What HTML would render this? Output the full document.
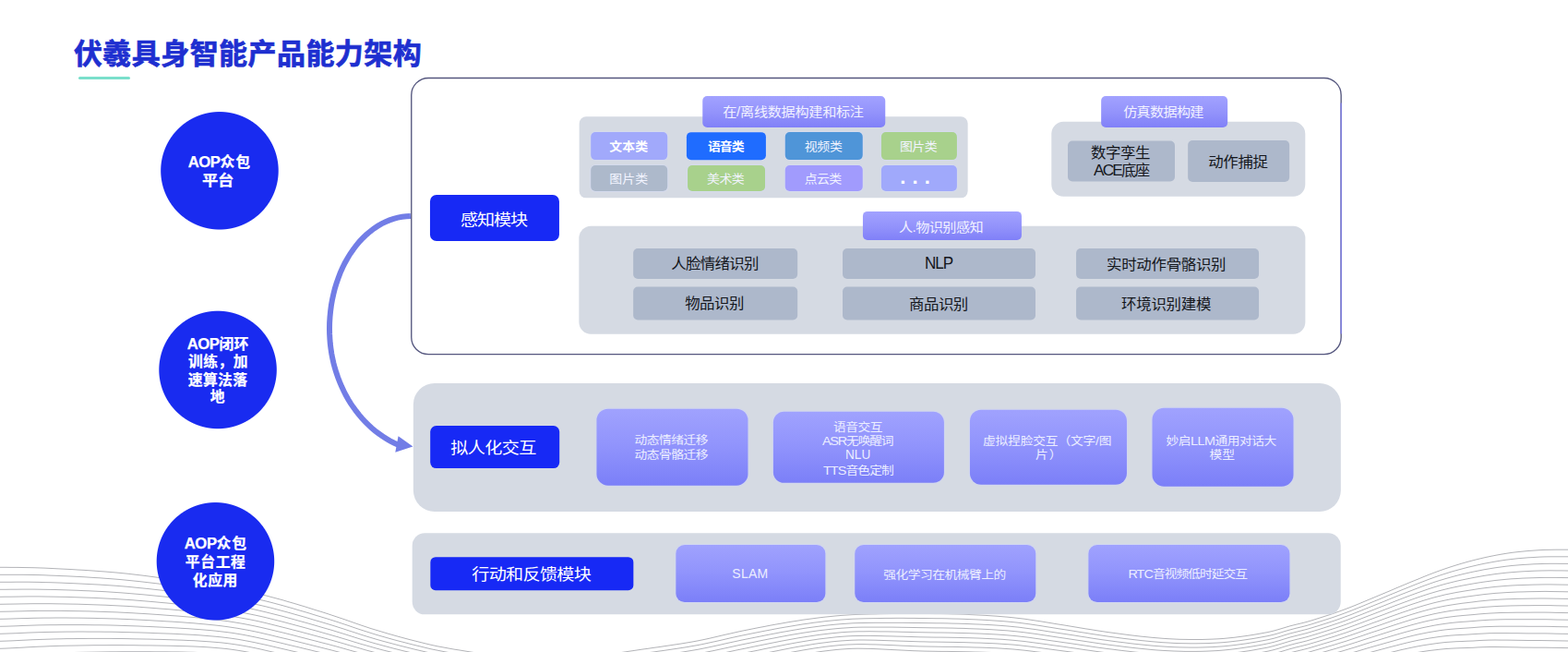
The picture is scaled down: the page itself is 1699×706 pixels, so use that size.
<!DOCTYPE html>
<html lang="zh-CN">
<head>
<meta charset="utf-8">
<title>伏羲具身智能产品能力架构</title>
<style>
*{box-sizing:border-box;margin:0;padding:0}
html,body{width:1699px;height:706px;overflow:hidden;background:#fff}
body{position:relative;font-family:"Liberation Sans","Noto Sans CJK SC",sans-serif;}
body>div,body>svg,body>h1{position:absolute}
svg{left:0;top:0}
.t{position:absolute;display:block;white-space:nowrap;line-height:1;transform-origin:0 0}
.title{left:0;top:0;width:600px;height:80px;font-size:31px;font-weight:700;color:#1e2fd0;-webkit-text-stroke:0.7px #1e2fd0}
.la{font-size:1.05em}
.lb{font-size:1.06em;letter-spacing:-0.5px}
.uline{background:#7adfcb;border-radius:2px}
.circ{color:#fff;font-weight:700;-webkit-text-stroke:0.25px #fff}
.panel{background:#d5dae3}
.btn{background:#1729f5;color:#fff}
.lab{border-radius:5px;background:linear-gradient(180deg,#a2a2ff 0%,#9292fb 55%,#8080f8 100%);color:#f1f1ff}
.chip{border-radius:5px;color:#f2f4ff;box-shadow:0 0 0 1px rgba(215,222,255,.35)}
.gb{border-radius:5px;background:#adb8cb;color:#14161b}
.pb{background:linear-gradient(180deg,#a0a2fe 0%,#9093fc 50%,#7b7ff8 100%);color:#eceeff;box-shadow:0 0 0 1px rgba(206,212,255,.5)}
.dots{position:absolute;font-weight:700;color:#fff;font-size:22px;line-height:1;white-space:nowrap;letter-spacing:0.5px;left:20.3px;top:2.2px}
</style>
</head>
<body>
<svg class="wave" width="1699" height="706" viewBox="0 0 1699 706"><g fill="none" stroke="#7d7f86" stroke-width="0.6"><polyline points="-6,614.3 0,614.3 6,614.3 12,614.4 18,614.4 24,614.5 30,614.6 36,614.7 42,614.9 48,615.1 54,615.4 60,615.7 66,616.0 72,616.3 78,616.6 84,617.0 90,617.3 96,617.7 102,618.1 108,618.6 114,619.0 120,619.5 126,620.0 132,620.6 138,621.2 144,621.9 150,622.6 156,623.3 162,624.1 168,624.9 174,625.7 180,626.5 186,627.3 192,628.1 198,629.0 204,629.8 210,630.7 216,631.6 222,632.6 228,633.5 234,634.5 240,635.5 246,636.5 252,637.6 258,638.6 264,639.8 270,640.9 276,642.2 282,643.5 288,644.9 294,646.5 300,648.1 306,649.7 312,651.5 318,653.2 324,655.0 330,656.8 336,658.7 342,660.6 348,662.4 354,664.3 360,666.3 366,668.3 372,670.3 378,672.4 384,674.5 390,676.6 396,678.6 402,680.6 408,682.4 414,684.2 420,686.0 426,687.7 432,689.4 438,691.0 444,692.6 450,694.1 456,695.6 462,697.1 468,698.5 474,699.8 480,700.9 486,702.0 492,703.1 498,704.0 504,705.0 510,706.0 516,706.9 522,707.9 528,708.8 534,709.7 540,710.5 546,711.3 552,712.1"/><polyline points="642,711.8 648,710.9 654,709.9 660,708.9 666,707.8 672,706.7 678,705.8 684,704.9 690,704.0 696,703.1 702,702.3 708,701.4 714,700.6 720,699.7 726,698.8 732,697.9 738,697.0 744,696.0 750,695.0 756,693.9 762,692.7 768,691.4 774,690.0 780,688.6 786,687.2 792,685.9 798,684.5 804,683.2 810,682.0 816,680.8 822,679.6 828,678.5 834,677.3 840,676.2 846,675.2 852,674.1 858,673.1 864,672.2 870,671.2 876,670.4 882,669.6 888,668.8 894,668.1 900,667.5 906,666.9 912,666.4 918,666.0 924,665.6 930,665.4 936,665.2 942,665.0 948,664.9 954,664.7 960,664.6 966,664.5 972,664.4 978,664.3 984,664.3 990,664.3 996,664.4 1002,664.4 1008,664.5 1014,664.6 1020,664.6 1026,664.7 1032,664.9 1038,665.0 1044,665.2 1050,665.5 1056,665.8 1062,666.1 1068,666.4 1074,666.8 1080,667.2 1086,667.7 1092,668.2 1098,668.8 1104,669.5 1110,670.2 1116,671.1 1122,672.0 1128,672.9 1134,673.9 1140,674.9 1146,675.9 1152,676.8 1158,677.8 1164,678.8 1170,679.8 1176,680.8 1182,681.7 1188,682.7 1194,683.6 1200,684.5 1206,685.3 1212,686.1 1218,686.9 1224,687.7 1230,688.4 1236,689.1 1242,689.7 1248,690.3 1254,690.8 1260,691.3 1266,691.7 1272,692.0 1278,692.3 1284,692.4 1290,692.5 1296,692.5 1302,692.5 1308,692.3 1314,692.1 1320,691.8 1326,691.4 1332,690.8 1338,690.2 1344,689.4 1350,688.6 1356,687.7 1362,686.7 1368,685.6 1374,684.5 1380,683.1 1386,681.4 1392,679.6 1398,677.8 1404,676.3 1410,674.9 1416,673.4 1422,671.6 1428,669.7 1434,667.8 1440,665.9 1446,663.9 1452,661.7 1458,659.5 1464,657.2 1470,654.8 1476,652.3 1482,649.8 1488,647.3 1494,644.8 1500,642.3 1506,639.8 1512,637.2 1518,634.7 1524,632.2 1530,629.7 1536,627.3 1542,624.8 1548,622.4 1554,620.1 1560,617.9 1566,615.8 1572,613.8 1578,611.9 1584,610.1 1590,608.4 1596,606.8 1602,605.3 1608,603.9 1614,602.6 1620,601.4 1626,600.3 1632,599.3 1638,598.4 1644,597.7 1650,597.1 1656,596.5 1662,596.1 1668,595.7 1674,595.4 1680,595.3 1686,595.2 1692,595.2 1698,595.2 1704,595.2 1710,595.2"/><polyline points="-6,622.3 0,622.3 6,622.3 12,622.3 18,622.3 24,622.3 30,622.4 36,622.5 42,622.6 48,622.8 54,623.1 60,623.3 66,623.6 72,623.8 78,624.1 84,624.4 90,624.7 96,625.1 102,625.5 108,625.8 114,626.3 120,626.7 126,627.2 132,627.7 138,628.3 144,628.9 150,629.5 156,630.2 162,630.9 168,631.6 174,632.3 180,633.1 186,633.8 192,634.6 198,635.4 204,636.2 210,637.0 216,637.9 222,638.8 228,639.7 234,640.6 240,641.5 246,642.5 252,643.6 258,644.6 264,645.7 270,646.9 276,648.1 282,649.5 288,650.9 294,652.4 300,654.0 306,655.6 312,657.3 318,659.0 324,660.8 330,662.5 336,664.3 342,666.2 348,668.0 354,669.8 360,671.7 366,673.6 372,675.6 378,677.6 384,679.7 390,681.7 396,683.6 402,685.5 408,687.4 414,689.1 420,690.8 426,692.5 432,694.1 438,695.6 444,697.2 450,698.7 456,700.1 462,701.6 468,703.0 474,704.2 480,705.4 486,706.5 492,707.5 498,708.4 504,709.4 510,710.3 516,711.3 522,712.2"/><polyline points="672,711.2 678,710.2 684,709.3 690,708.5 696,707.6 702,706.8 708,706.0 714,705.1 720,704.3 726,703.4 732,702.5 738,701.6 744,700.7 750,699.6 756,698.6 762,697.4 768,696.1 774,694.8 780,693.5 786,692.1 792,690.7 798,689.4 804,688.1 810,686.9 816,685.7 822,684.5 828,683.3 834,682.2 840,681.0 846,679.9 852,678.9 858,677.9 864,676.9 870,675.9 876,675.1 882,674.2 888,673.5 894,672.7 900,672.1 906,671.5 912,671.0 918,670.6 924,670.2 930,670.0 936,669.8 942,669.7 948,669.6 954,669.5 960,669.4 966,669.4 972,669.3 978,669.3 984,669.4 990,669.4 996,669.5 1002,669.5 1008,669.6 1014,669.7 1020,669.7 1026,669.8 1032,670.0 1038,670.1 1044,670.3 1050,670.6 1056,670.8 1062,671.1 1068,671.4 1074,671.8 1080,672.2 1086,672.6 1092,673.1 1098,673.7 1104,674.3 1110,675.1 1116,675.9 1122,676.8 1128,677.7 1134,678.7 1140,679.6 1146,680.6 1152,681.5 1158,682.4 1164,683.4 1170,684.4 1176,685.3 1182,686.3 1188,687.2 1194,688.1 1200,689.0 1206,689.8 1212,690.6 1218,691.4 1224,692.1 1230,692.8 1236,693.5 1242,694.1 1248,694.7 1254,695.2 1260,695.7 1266,696.0 1272,696.4 1278,696.6 1284,696.7 1290,696.8 1296,696.8 1302,696.7 1308,696.6 1314,696.3 1320,696.0 1326,695.6 1332,695.0 1338,694.3 1344,693.6 1350,692.7 1356,691.8 1362,690.8 1368,689.7 1374,688.6 1380,687.2 1386,685.5 1392,683.6 1398,681.9 1404,680.3 1410,678.9 1416,677.4 1422,675.6 1428,673.7 1434,671.8 1440,669.9 1446,667.9 1452,665.8 1458,663.6 1464,661.3 1470,658.9 1476,656.5 1482,654.0 1488,651.5 1494,649.1 1500,646.6 1506,644.1 1512,641.7 1518,639.2 1524,636.8 1530,634.4 1536,632.0 1542,629.7 1548,627.4 1554,625.2 1560,623.1 1566,621.2 1572,619.3 1578,617.6 1584,616.0 1590,614.4 1596,613.0 1602,611.6 1608,610.3 1614,609.2 1620,608.1 1626,607.1 1632,606.2 1638,605.5 1644,604.8 1650,604.3 1656,603.8 1662,603.5 1668,603.1 1674,602.9 1680,602.8 1686,602.8 1692,602.8 1698,602.8 1704,602.8 1710,602.8"/><polyline points="-6,630.3 0,630.3 6,630.3 12,630.3 18,630.2 24,630.2 30,630.2 36,630.3 42,630.4 48,630.6 54,630.7 60,630.9 66,631.1 72,631.4 78,631.6 84,631.9 90,632.2 96,632.5 102,632.8 108,633.1 114,633.5 120,633.9 126,634.3 132,634.8 138,635.3 144,635.9 150,636.5 156,637.1 162,637.7 168,638.4 174,639.0 180,639.7 186,640.4 192,641.1 198,641.8 204,642.6 210,643.3 216,644.1 222,644.9 228,645.8 234,646.7 240,647.6 246,648.6 252,649.5 258,650.6 264,651.7 270,652.8 276,654.1 282,655.4 288,656.8 294,658.3 300,659.9 306,661.5 312,663.1 318,664.8 324,666.5 330,668.2 336,670.0 342,671.8 348,673.5 354,675.3 360,677.1 366,679.0 372,680.9 378,682.9 384,684.8 390,686.8 396,688.7 402,690.5 408,692.3 414,694.0 420,695.6 426,697.2 432,698.8 438,700.3 444,701.8 450,703.3 456,704.7 462,706.1 468,707.4 474,708.7 480,709.8 486,710.9 492,711.9 498,712.8"/><polyline points="702,711.3 708,710.5 714,709.7 720,708.9 726,708.0 732,707.2 738,706.3 744,705.3 750,704.3 756,703.3 762,702.1 768,700.9 774,699.6 780,698.3 786,696.9 792,695.6 798,694.3 804,693.0 810,691.8 816,690.6 822,689.4 828,688.2 834,687.0 840,685.9 846,684.7 852,683.7 858,682.6 864,681.6 870,680.6 876,679.7 882,678.9 888,678.1 894,677.3 900,676.7 906,676.1 912,675.6 918,675.2 924,674.8 930,674.6 936,674.5 942,674.4 948,674.3 954,674.3 960,674.3 966,674.3 972,674.3 978,674.3 984,674.4 990,674.5 996,674.5 1002,674.6 1008,674.7 1014,674.8 1020,674.8 1026,674.9 1032,675.1 1038,675.2 1044,675.4 1050,675.6 1056,675.9 1062,676.1 1068,676.4 1074,676.7 1080,677.1 1086,677.5 1092,678.0 1098,678.6 1104,679.2 1110,680.0 1116,680.8 1122,681.6 1128,682.5 1134,683.5 1140,684.4 1146,685.3 1152,686.2 1158,687.1 1164,688.0 1170,689.0 1176,689.9 1182,690.9 1188,691.8 1194,692.7 1200,693.5 1206,694.3 1212,695.1 1218,695.8 1224,696.6 1230,697.3 1236,697.9 1242,698.5 1248,699.1 1254,699.6 1260,700.0 1266,700.4 1272,700.7 1278,700.9 1284,701.0 1290,701.1 1296,701.1 1302,701.0 1308,700.8 1314,700.6 1320,700.2 1326,699.8 1332,699.2 1338,698.5 1344,697.7 1350,696.9 1356,695.9 1362,694.9 1368,693.8 1374,692.7 1380,691.3 1386,689.6 1392,687.7 1398,685.9 1404,684.4 1410,682.9 1416,681.4 1422,679.6 1428,677.8 1434,675.9 1440,674.0 1446,672.0 1452,669.9 1458,667.7 1464,665.5 1470,663.1 1476,660.7 1482,658.3 1488,655.9 1494,653.5 1500,651.1 1506,648.6 1512,646.2 1518,643.8 1524,641.5 1530,639.2 1536,636.9 1542,634.6 1548,632.5 1554,630.4 1560,628.5 1566,626.7 1572,625.0 1578,623.4 1584,621.9 1590,620.5 1596,619.2 1602,618.0 1608,616.8 1614,615.8 1620,614.8 1626,614.0 1632,613.2 1638,612.5 1644,612.0 1650,611.5 1656,611.2 1662,610.8 1668,610.6 1674,610.4 1680,610.3 1686,610.3 1692,610.4 1698,610.4 1704,610.4 1710,610.4"/><polyline points="-6,638.3 0,638.3 6,638.3 12,638.2 18,638.2 24,638.1 30,638.1 36,638.1 42,638.2 48,638.3 54,638.4 60,638.5 66,638.7 72,638.9 78,639.1 84,639.3 90,639.6 96,639.8 102,640.1 108,640.4 114,640.7 120,641.1 126,641.5 132,641.9 138,642.4 144,642.9 150,643.4 156,643.9 162,644.5 168,645.1 174,645.7 180,646.3 186,646.9 192,647.6 198,648.2 204,648.9 210,649.6 216,650.4 222,651.1 228,651.9 234,652.8 240,653.6 246,654.6 252,655.5 258,656.6 264,657.6 270,658.8 276,660.0 282,661.4 288,662.8 294,664.3 300,665.8 306,667.3 312,669.0 318,670.6 324,672.3 330,673.9 336,675.6 342,677.3 348,679.1 354,680.8 360,682.5 366,684.4 372,686.2 378,688.1 384,690.0 390,691.9 396,693.7 402,695.5 408,697.2 414,698.8 420,700.4 426,702.0 432,703.5 438,705.0 444,706.4 450,707.8 456,709.2 462,710.6 468,711.9 474,713.2"/><polyline points="732,711.8 738,710.9 744,710.0 750,709.0 756,708.0 762,706.8 768,705.6 774,704.4 780,703.1 786,701.8 792,700.5 798,699.2 804,697.9 810,696.7 816,695.5 822,694.2 828,693.0 834,691.8 840,690.7 846,689.5 852,688.4 858,687.3 864,686.3 870,685.3 876,684.4 882,683.5 888,682.7 894,682.0 900,681.3 906,680.7 912,680.2 918,679.8 924,679.4 930,679.2 936,679.1 942,679.1 948,679.1 954,679.1 960,679.1 966,679.1 972,679.2 978,679.3 984,679.4 990,679.5 996,679.6 1002,679.7 1008,679.8 1014,679.9 1020,679.9 1026,680.0 1032,680.1 1038,680.3 1044,680.4 1050,680.7 1056,680.9 1062,681.1 1068,681.4 1074,681.7 1080,682.1 1086,682.5 1092,682.9 1098,683.5 1104,684.1 1110,684.8 1116,685.6 1122,686.4 1128,687.3 1134,688.2 1140,689.1 1146,690.0 1152,690.9 1158,691.8 1164,692.7 1170,693.6 1176,694.5 1182,695.4 1188,696.3 1194,697.2 1200,698.0 1206,698.8 1212,699.5 1218,700.3 1224,701.0 1230,701.7 1236,702.3 1242,702.9 1248,703.5 1254,704.0 1260,704.4 1266,704.7 1272,705.0 1278,705.2 1284,705.4 1290,705.4 1296,705.4 1302,705.3 1308,705.1 1314,704.8 1320,704.5 1326,704.0 1332,703.4 1338,702.7 1344,701.9 1350,701.0 1356,700.1 1362,699.1 1368,698.0 1374,696.8 1380,695.4 1386,693.7 1392,691.8 1398,690.0 1404,688.5 1410,687.0 1416,685.5 1422,683.7 1428,681.9 1434,680.0 1440,678.1 1446,676.1 1452,674.1 1458,672.0 1464,669.7 1470,667.4 1476,665.1 1482,662.7 1488,660.4 1494,658.0 1500,655.7 1506,653.3 1512,650.9 1518,648.6 1524,646.3 1530,644.1 1536,641.9 1542,639.8 1548,637.7 1554,635.8 1560,634.0 1566,632.3 1572,630.8 1578,629.3 1584,628.0 1590,626.8 1596,625.6 1602,624.5 1608,623.4 1614,622.5 1620,621.6 1626,620.9 1632,620.2 1638,619.7 1644,619.2 1650,618.8 1656,618.5 1662,618.2 1668,618.0 1674,617.9 1680,617.8 1686,617.9 1692,617.9 1698,618.0 1704,618.0 1710,618.0"/><polyline points="-6,646.3 0,646.3 6,646.2 12,646.2 18,646.1 24,646.0 30,645.9 36,645.9 42,645.9 48,646.0 54,646.1 60,646.2 66,646.3 72,646.4 78,646.6 84,646.8 90,647.0 96,647.2 102,647.4 108,647.7 114,648.0 120,648.3 126,648.6 132,649.0 138,649.4 144,649.8 150,650.3 156,650.8 162,651.3 168,651.8 174,652.4 180,652.9 186,653.5 192,654.1 198,654.7 204,655.3 210,655.9 216,656.6 222,657.3 228,658.1 234,658.9 240,659.7 246,660.6 252,661.5 258,662.5 264,663.6 270,664.8 276,666.0 282,667.3 288,668.7 294,670.2 300,671.7 306,673.2 312,674.8 318,676.4 324,678.0 330,679.6 336,681.3 342,682.9 348,684.6 354,686.3 360,688.0 366,689.7 372,691.5 378,693.3 384,695.2 390,697.0 396,698.7 402,700.4 408,702.1 414,703.7 420,705.2 426,706.7 432,708.2 438,709.6 444,711.0 450,712.4"/><polyline points="762,711.6 768,710.4 774,709.2 780,707.9 786,706.6 792,705.3 798,704.0 804,702.8 810,701.6 816,700.3 822,699.1 828,697.9 834,696.7 840,695.5 846,694.3 852,693.2 858,692.1 864,691.0 870,690.0 876,689.1 882,688.2 888,687.3 894,686.6 900,685.9 906,685.3 912,684.7 918,684.3 924,684.0 930,683.8 936,683.8 942,683.7 948,683.8 954,683.9 960,683.9 966,684.0 972,684.1 978,684.3 984,684.4 990,684.6 996,684.7 1002,684.8 1008,684.9 1014,685.0 1020,685.0 1026,685.1 1032,685.2 1038,685.4 1044,685.5 1050,685.7 1056,685.9 1062,686.1 1068,686.4 1074,686.7 1080,687.0 1086,687.4 1092,687.9 1098,688.4 1104,689.0 1110,689.7 1116,690.4 1122,691.3 1128,692.1 1134,693.0 1140,693.9 1146,694.7 1152,695.6 1158,696.4 1164,697.3 1170,698.2 1176,699.1 1182,700.0 1188,700.9 1194,701.7 1200,702.5 1206,703.2 1212,704.0 1218,704.7 1224,705.4 1230,706.1 1236,706.7 1242,707.3 1248,707.9 1254,708.3 1260,708.8 1266,709.1 1272,709.4 1278,709.6 1284,709.7 1290,709.7 1296,709.6 1302,709.5 1308,709.3 1314,709.1 1320,708.7 1326,708.2 1332,707.6 1338,706.9 1344,706.1 1350,705.2 1356,704.3 1362,703.2 1368,702.1 1374,701.0 1380,699.5 1386,697.8 1392,696.0 1398,694.2 1404,692.6 1410,691.2 1416,689.7 1422,687.9 1428,686.1 1434,684.2 1440,682.3 1446,680.4 1452,678.4 1458,676.3 1464,674.1 1470,671.8 1476,669.5 1482,667.2 1488,664.9 1494,662.6 1500,660.3 1506,658.0 1512,655.7 1518,653.5 1524,651.3 1530,649.1 1536,647.0 1542,645.0 1548,643.1 1554,641.3 1560,639.6 1566,638.1 1572,636.7 1578,635.4 1584,634.2 1590,633.1 1596,632.0 1602,631.0 1608,630.1 1614,629.3 1620,628.5 1626,627.9 1632,627.3 1638,626.8 1644,626.5 1650,626.1 1656,625.9 1662,625.7 1668,625.5 1674,625.4 1680,625.4 1686,625.4 1692,625.5 1698,625.6 1704,625.6 1710,625.6"/><polyline points="-6,654.3 0,654.3 6,654.2 12,654.1 18,654.0 24,653.9 30,653.8 36,653.7 42,653.7 48,653.7 54,653.7 60,653.8 66,653.9 72,654.0 78,654.1 84,654.2 90,654.4 96,654.6 102,654.8 108,655.0 114,655.2 120,655.5 126,655.8 132,656.1 138,656.4 144,656.8 150,657.2 156,657.7 162,658.1 168,658.6 174,659.1 180,659.5 186,660.0 192,660.6 198,661.1 204,661.7 210,662.2 216,662.9 222,663.5 228,664.2 234,665.0 240,665.7 246,666.6 252,667.5 258,668.5 264,669.6 270,670.7 276,671.9 282,673.2 288,674.6 294,676.1 300,677.6 306,679.1 312,680.6 318,682.2 324,683.7 330,685.3 336,686.9 342,688.5 348,690.1 354,691.7 360,693.4 366,695.1 372,696.8 378,698.6 384,700.3 390,702.0 396,703.8 402,705.4 408,707.0 414,708.5 420,710.0 426,711.5 432,712.9"/><polyline points="786,711.4 792,710.2 798,708.9 804,707.7 810,706.4 816,705.2 822,704.0 828,702.7 834,701.5 840,700.3 846,699.1 852,697.9 858,696.8 864,695.7 870,694.7 876,693.7 882,692.8 888,691.9 894,691.2 900,690.5 906,689.8 912,689.3 918,688.9 924,688.6 930,688.5 936,688.4 942,688.4 948,688.5 954,688.6 960,688.8 966,688.9 972,689.1 978,689.2 984,689.4 990,689.6 996,689.8 1002,689.9 1008,690.0 1014,690.1 1020,690.1 1026,690.2 1032,690.3 1038,690.4 1044,690.6 1050,690.7 1056,690.9 1062,691.1 1068,691.4 1074,691.7 1080,692.0 1086,692.3 1092,692.8 1098,693.3 1104,693.9 1110,694.5 1116,695.3 1122,696.1 1128,696.9 1134,697.7 1140,698.6 1146,699.4 1152,700.2 1158,701.1 1164,701.9 1170,702.8 1176,703.7 1182,704.5 1188,705.4 1194,706.2 1200,707.0 1206,707.7 1212,708.4 1218,709.2 1224,709.9 1230,710.5 1236,711.1 1242,711.7 1248,712.2"/><polyline points="1332,711.8 1338,711.1 1344,710.3 1350,709.4 1356,708.5 1362,707.4 1368,706.3 1374,705.1 1380,703.7 1386,702.0 1392,700.1 1398,698.4 1404,696.8 1410,695.4 1416,693.9 1422,692.1 1428,690.3 1434,688.5 1440,686.6 1446,684.7 1452,682.7 1458,680.7 1464,678.5 1470,676.3 1476,674.1 1482,671.8 1488,669.6 1494,667.4 1500,665.2 1506,662.9 1512,660.7 1518,658.5 1524,656.4 1530,654.3 1536,652.4 1542,650.4 1548,648.6 1554,646.9 1560,645.4 1566,643.9 1572,642.7 1578,641.5 1584,640.5 1590,639.5 1596,638.6 1602,637.6 1608,636.8 1614,636.1 1620,635.4 1626,634.9 1632,634.4 1638,634.0 1644,633.7 1650,633.5 1656,633.3 1662,633.1 1668,633.0 1674,632.9 1680,632.9 1686,633.0 1692,633.1 1698,633.2 1704,633.2 1710,633.3"/><polyline points="-6,662.4 0,662.3 6,662.2 12,662.1 18,661.9 24,661.8 30,661.6 36,661.5 42,661.4 48,661.4 54,661.4 60,661.4 66,661.4 72,661.5 78,661.6 84,661.7 90,661.8 96,661.9 102,662.1 108,662.3 114,662.5 120,662.7 126,662.9 132,663.2 138,663.5 144,663.8 150,664.2 156,664.5 162,664.9 168,665.3 174,665.7 180,666.2 186,666.6 192,667.0 198,667.5 204,668.0 210,668.5 216,669.1 222,669.7 228,670.4 234,671.0 240,671.8 246,672.6 252,673.5 258,674.5 264,675.5 270,676.7 276,677.9 282,679.2 288,680.6 294,682.0 300,683.5 306,684.9 312,686.4 318,687.9 324,689.5 330,691.0 336,692.6 342,694.1 348,695.7 354,697.2 360,698.8 366,700.4 372,702.1 378,703.8 384,705.5 390,707.1 396,708.8 402,710.4 408,711.9 414,713.4"/><polyline points="810,711.3 816,710.1 822,708.8 828,707.6 834,706.3 840,705.1 846,703.9 852,702.7 858,701.5 864,700.4 870,699.4 876,698.4 882,697.4 888,696.5 894,695.8 900,695.0 906,694.4 912,693.9 918,693.5 924,693.2 930,693.0 936,693.0 942,693.1 948,693.2 954,693.4 960,693.6 966,693.8 972,694.0 978,694.2 984,694.4 990,694.6 996,694.8 1002,694.9 1008,695.1 1014,695.1 1020,695.2 1026,695.3 1032,695.4 1038,695.5 1044,695.6 1050,695.8 1056,696.0 1062,696.1 1068,696.4 1074,696.6 1080,696.9 1086,697.3 1092,697.7 1098,698.1 1104,698.7 1110,699.4 1116,700.1 1122,700.9 1128,701.7 1134,702.5 1140,703.3 1146,704.1 1152,704.9 1158,705.7 1164,706.5 1170,707.4 1176,708.2 1182,709.1 1188,709.9 1194,710.7 1200,711.5 1206,712.2"/><polyline points="1362,711.6 1368,710.5 1374,709.3 1380,707.9 1386,706.2 1392,704.4 1398,702.6 1404,701.0 1410,699.6 1416,698.1 1422,696.4 1428,694.6 1434,692.8 1440,690.9 1446,689.1 1452,687.1 1458,685.2 1464,683.1 1470,680.9 1476,678.8 1482,676.6 1488,674.4 1494,672.3 1500,670.1 1506,667.9 1512,665.8 1518,663.7 1524,661.7 1530,659.7 1536,657.8 1542,656.0 1548,654.3 1554,652.7 1560,651.3 1566,650.0 1572,648.8 1578,647.8 1584,646.9 1590,646.0 1596,645.2 1602,644.4 1608,643.6 1614,643.0 1620,642.4 1626,642.0 1632,641.6 1638,641.3 1644,641.0 1650,640.9 1656,640.7 1662,640.6 1668,640.5 1674,640.4 1680,640.5 1686,640.6 1692,640.7 1698,640.8 1704,640.8 1710,640.9"/><polyline points="-6,670.4 0,670.3 6,670.2 12,670.0 18,669.8 24,669.6 30,669.5 36,669.3 42,669.2 48,669.1 54,669.1 60,669.0 66,669.0 72,669.0 78,669.1 84,669.1 90,669.2 96,669.3 102,669.4 108,669.6 114,669.7 120,669.9 126,670.0 132,670.3 138,670.5 144,670.8 150,671.1 156,671.4 162,671.7 168,672.1 174,672.4 180,672.8 186,673.1 192,673.5 198,673.9 204,674.4 210,674.8 216,675.4 222,675.9 228,676.5 234,677.1 240,677.8 246,678.6 252,679.5 258,680.4 264,681.5 270,682.6 276,683.8 282,685.1 288,686.5 294,687.9 300,689.4 306,690.8 312,692.2 318,693.7 324,695.2 330,696.7 336,698.2 342,699.7 348,701.2 354,702.7 360,704.2 366,705.8 372,707.4 378,709.0 384,710.6 390,712.2"/><polyline points="834,711.1 840,709.9 846,708.6 852,707.4 858,706.2 864,705.1 870,704.0 876,703.0 882,702.0 888,701.2 894,700.3 900,699.6 906,699.0 912,698.4 918,698.0 924,697.8 930,697.6 936,697.6 942,697.8 948,697.9 954,698.1 960,698.4 966,698.6 972,698.9 978,699.2 984,699.4 990,699.7 996,699.9 1002,700.0 1008,700.1 1014,700.2 1020,700.3 1026,700.4 1032,700.4 1038,700.5 1044,700.7 1050,700.8 1056,701.0 1062,701.1 1068,701.3 1074,701.6 1080,701.8 1086,702.2 1092,702.6 1098,703.0 1104,703.6 1110,704.2 1116,704.9 1122,705.7 1128,706.4 1134,707.2 1140,708.0 1146,708.8 1152,709.6 1158,710.4 1164,711.2 1170,712.0 1176,712.8"/><polyline points="1386,710.4 1392,708.6 1398,706.8 1404,705.3 1410,703.9 1416,702.4 1422,700.7 1428,698.9 1434,697.1 1440,695.3 1446,693.5 1452,691.7 1458,689.7 1464,687.7 1470,685.6 1476,683.5 1482,681.4 1488,679.3 1494,677.3 1500,675.2 1506,673.1 1512,671.0 1518,669.0 1524,667.1 1530,665.2 1536,663.4 1542,661.7 1548,660.1 1554,658.6 1560,657.3 1566,656.1 1572,655.1 1578,654.2 1584,653.3 1590,652.6 1596,651.9 1602,651.1 1608,650.5 1614,649.9 1620,649.5 1626,649.1 1632,648.8 1638,648.6 1644,648.4 1650,648.3 1656,648.2 1662,648.1 1668,648.0 1674,648.0 1680,648.1 1686,648.2 1692,648.3 1698,648.4 1704,648.4 1710,648.5"/><polyline points="-6,678.4 0,678.3 6,678.2 12,678.0 18,677.8 24,677.5 30,677.3 36,677.1 42,676.9 48,676.8 54,676.7 60,676.7 66,676.6 72,676.6 78,676.6 84,676.6 90,676.6 96,676.7 102,676.8 108,676.8 114,676.9 120,677.0 126,677.2 132,677.4 138,677.6 144,677.8 150,678.0 156,678.3 162,678.5 168,678.8 174,679.1 180,679.4 186,679.7 192,680.0 198,680.4 204,680.7 210,681.2 216,681.6 222,682.1 228,682.6 234,683.2 240,683.9 246,684.6 252,685.4 258,686.4 264,687.4 270,688.6 276,689.8 282,691.1 288,692.4 294,693.8 300,695.2 306,696.6 312,698.1 318,699.5 324,700.9 330,702.4 336,703.8 342,705.3 348,706.7 354,708.2 360,709.6 366,711.2 372,712.7"/><polyline points="858,711.0 864,709.8 870,708.7 876,707.6 882,706.7 888,705.7 894,704.9 900,704.2 906,703.5 912,703.0 918,702.6 924,702.3 930,702.2 936,702.3 942,702.4 948,702.6 954,702.9 960,703.2 966,703.5 972,703.8 978,704.1 984,704.4 990,704.7 996,704.9 1002,705.1 1008,705.2 1014,705.3 1020,705.4 1026,705.4 1032,705.5 1038,705.6 1044,705.7 1050,705.8 1056,706.0 1062,706.1 1068,706.3 1074,706.5 1080,706.8 1086,707.1 1092,707.5 1098,707.9 1104,708.4 1110,709.1 1116,709.7 1122,710.5 1128,711.2 1134,712.0 1140,712.8"/><polyline points="1398,711.1 1404,709.6 1410,708.2 1416,706.8 1422,705.0 1428,703.3 1434,701.6 1440,699.8 1446,698.1 1452,696.2 1458,694.4 1464,692.4 1470,690.4 1476,688.4 1482,686.3 1488,684.3 1494,682.4 1500,680.4 1506,678.4 1512,676.4 1518,674.5 1524,672.6 1530,670.8 1536,669.1 1542,667.5 1548,666.1 1554,664.7 1560,663.5 1566,662.4 1572,661.4 1578,660.6 1584,659.9 1590,659.3 1596,658.7 1602,658.0 1608,657.4 1614,657.0 1620,656.6 1626,656.3 1632,656.1 1638,655.9 1644,655.8 1650,655.7 1656,655.7 1662,655.6 1668,655.6 1674,655.6 1680,655.6 1686,655.8 1692,655.9 1698,656.0 1704,656.0 1710,656.1"/><polyline points="-6,686.4 0,686.3 6,686.1 12,685.9 18,685.7 24,685.4 30,685.1 36,684.9 42,684.7 48,684.5 54,684.4 60,684.3 66,684.2 72,684.1 78,684.1 84,684.0 90,684.0 96,684.1 102,684.1 108,684.1 114,684.2 120,684.2 126,684.3 132,684.5 138,684.6 144,684.8 150,684.9 156,685.1 162,685.3 168,685.6 174,685.8 180,686.0 186,686.2 192,686.5 198,686.8 204,687.1 210,687.4 216,687.8 222,688.3 228,688.8 234,689.3 240,689.9 246,690.6 252,691.4 258,692.3 264,693.4 270,694.5 276,695.7 282,697.0 288,698.3 294,699.7 300,701.1 306,702.5 312,703.9 318,705.3 324,706.7 330,708.1 336,709.5 342,710.9 348,712.3"/><polyline points="882,711.3 888,710.3 894,709.5 900,708.7 906,708.1 912,707.6 918,707.1 924,706.9 930,706.8 936,706.9 942,707.1 948,707.3 954,707.6 960,708.0 966,708.3 972,708.7 978,709.1 984,709.4 990,709.7 996,710.0 1002,710.1 1008,710.3 1014,710.4 1020,710.4 1026,710.5 1032,710.6 1038,710.6 1044,710.7 1050,710.8 1056,711.0 1062,711.1 1068,711.3 1074,711.5 1080,711.7 1086,712.0 1092,712.3"/><polyline points="1416,711.1 1422,709.5 1428,707.8 1434,706.1 1440,704.4 1446,702.7 1452,700.9 1458,699.1 1464,697.2 1470,695.3 1476,693.3 1482,691.4 1488,689.5 1494,687.6 1500,685.7 1506,683.8 1512,681.9 1518,680.0 1524,678.3 1530,676.6 1536,675.0 1542,673.5 1548,672.1 1554,670.9 1560,669.7 1566,668.7 1572,667.9 1578,667.2 1584,666.6 1590,666.1 1596,665.6 1602,665.0 1608,664.5 1614,664.1 1620,663.8 1626,663.5 1632,663.4 1638,663.3 1644,663.2 1650,663.2 1656,663.2 1662,663.1 1668,663.1 1674,663.1 1680,663.2 1686,663.4 1692,663.5 1698,663.6 1704,663.6 1710,663.7"/><polyline points="-6,694.4 0,694.3 6,694.1 12,693.9 18,693.6 24,693.3 30,693.0 36,692.7 42,692.5 48,692.3 54,692.1 60,691.9 66,691.8 72,691.6 78,691.6 84,691.5 90,691.5 96,691.4 102,691.4 108,691.4 114,691.4 120,691.4 126,691.5 132,691.5 138,691.6 144,691.8 150,691.9 156,692.0 162,692.1 168,692.3 174,692.4 180,692.6 186,692.8 192,693.0 198,693.2 204,693.5 210,693.7 216,694.1 222,694.5 228,694.9 234,695.4 240,695.9 246,696.6 252,697.4 258,698.3 264,699.3 270,700.4 276,701.6 282,702.9 288,704.3 294,705.7 300,707.0 306,708.4 312,709.7 318,711.1 324,712.4"/><polyline points="918,711.7 924,711.4 930,711.4 936,711.5 942,711.7 948,712.0"/><polyline points="1434,710.7 1440,709.0 1446,707.3 1452,705.7 1458,703.9 1464,702.1 1470,700.3 1476,698.4 1482,696.5 1488,694.7 1494,692.9 1500,691.1 1506,689.3 1512,687.5 1518,685.8 1524,684.1 1530,682.5 1536,681.0 1542,679.6 1548,678.4 1554,677.2 1560,676.2 1566,675.3 1572,674.5 1578,673.9 1584,673.4 1590,673.0 1596,672.5 1602,672.0 1608,671.6 1614,671.2 1620,671.0 1626,670.8 1632,670.7 1638,670.7 1644,670.7 1650,670.7 1656,670.7 1662,670.7 1668,670.7 1674,670.7 1680,670.8 1686,671.0 1692,671.1 1698,671.2 1704,671.2 1710,671.3"/><polyline points="-6,702.4 0,702.3 6,702.1 12,701.8 18,701.5 24,701.2 30,700.8 36,700.5 42,700.2 48,700.0 54,699.7 60,699.5 66,699.3 72,699.2 78,699.1 84,699.0 90,698.9 96,698.8 102,698.7 108,698.7 114,698.7 120,698.6 126,698.6 132,698.6 138,698.7 144,698.7 150,698.8 156,698.9 162,698.9 168,699.0 174,699.1 180,699.2 186,699.3 192,699.5 198,699.6 204,699.8 210,700.0 216,700.3 222,700.6 228,701.0 234,701.5 240,702.0 246,702.6 252,703.4 258,704.3 264,705.3 270,706.4 276,707.6 282,708.9 288,710.2 294,711.6 300,712.9"/><polyline points="1452,710.5 1458,708.8 1464,707.1 1470,705.4 1476,703.6 1482,701.8 1488,700.1 1494,698.4 1500,696.7 1506,695.0 1512,693.3 1518,691.6 1524,690.0 1530,688.5 1536,687.1 1542,685.9 1548,684.7 1554,683.7 1560,682.7 1566,681.9 1572,681.3 1578,680.8 1584,680.4 1590,680.0 1596,679.6 1602,679.1 1608,678.7 1614,678.5 1620,678.3 1626,678.2 1632,678.2 1638,678.2 1644,678.2 1650,678.2 1656,678.3 1662,678.3 1668,678.3 1674,678.3 1680,678.4 1686,678.6 1692,678.7 1698,678.8 1704,678.8 1710,678.9"/><polyline points="-6,710.5 0,710.3 6,710.1 12,709.8 18,709.4 24,709.1 30,708.7 36,708.3 42,708.0 48,707.7 54,707.4 60,707.1 66,706.9 72,706.7 78,706.6 84,706.4 90,706.3 96,706.2 102,706.1 108,706.0 114,705.9 120,705.8 126,705.8 132,705.7 138,705.7 144,705.7 150,705.7 156,705.7 162,705.7 168,705.8 174,705.8 180,705.8 186,705.9 192,705.9 198,706.0 204,706.2 210,706.3 216,706.6 222,706.8 228,707.2 234,707.6 240,708.0 246,708.6 252,709.4 258,710.2 264,711.2 270,712.3"/><polyline points="1470,710.5 1476,708.8 1482,707.2 1488,705.5 1494,703.9 1500,702.3 1506,700.7 1512,699.2 1518,697.6 1524,696.1 1530,694.7 1536,693.4 1542,692.3 1548,691.2 1554,690.3 1560,689.4 1566,688.7 1572,688.1 1578,687.7 1584,687.4 1590,687.1 1596,686.7 1602,686.3 1608,686.0 1614,685.7 1620,685.6 1626,685.6 1632,685.6 1638,685.7 1644,685.7 1650,685.8 1656,685.9 1662,685.9 1668,685.9 1674,685.9 1680,686.0 1686,686.2 1692,686.3 1698,686.4 1704,686.4 1710,686.4"/><polyline points="1488,711.1 1494,709.6 1500,708.1 1506,706.7 1512,705.2 1518,703.7 1524,702.4 1530,701.1 1536,699.9 1542,698.8 1548,697.9 1554,697.0 1560,696.2 1566,695.5 1572,695.1 1578,694.7 1584,694.5 1590,694.2 1596,694.0 1602,693.6 1608,693.3 1614,693.1 1620,693.0 1626,693.1 1632,693.1 1638,693.2 1644,693.3 1650,693.4 1656,693.5 1662,693.5 1668,693.5 1674,693.6 1680,693.7 1686,693.8 1692,693.9 1698,694.0 1704,694.0 1710,694.0"/><polyline points="1512,711.3 1518,710.0 1524,708.7 1530,707.5 1536,706.5 1542,705.5 1548,704.6 1554,703.9 1560,703.2 1566,702.6 1572,702.2 1578,701.9 1584,701.7 1590,701.5 1596,701.3 1602,700.9 1608,700.7 1614,700.5 1620,700.5 1626,700.6 1632,700.7 1638,700.8 1644,700.9 1650,701.1 1656,701.1 1662,701.2 1668,701.2 1674,701.2 1680,701.3 1686,701.4 1692,701.5 1698,701.6 1704,701.6 1710,701.6"/><polyline points="1548,711.6 1554,710.9 1560,710.2 1566,709.7 1572,709.4 1578,709.2 1584,709.0 1590,708.9 1596,708.7 1602,708.4 1608,708.1 1614,708.0 1620,708.0 1626,708.2 1632,708.3 1638,708.5 1644,708.6 1650,708.7 1656,708.8 1662,708.9 1668,708.9 1674,708.9 1680,709.0 1686,709.1 1692,709.2 1698,709.2 1704,709.2 1710,709.2"/></g></svg>
<h1 class="title"><span class="t" style="left:79.89px;top:42.98px;font-size:31.0px;letter-spacing:0.44px;transform:scaleX(1.0)">伏羲具身智能产品能力架构</span></h1>
<div class="uline" style="left:84.7px;top:83.4px;width:56.3px;height:2.4px;"></div>
<div class="circ" style="left:172px;top:119px;width:133px;height:133px;background:radial-gradient(circle at 65.95px 65.80px,#192bf0 63.25px,rgba(25,43,240,0) 64.25px);"><span class="t" style="left:31.73px;top:49.07px;font-size:15.8px;letter-spacing:0.86px;transform:scaleX(1.0)"><span class="lb">AOP</span>众包</span><span class="t" style="left:47.26px;top:69.39px;font-size:15.8px;letter-spacing:-0.25px;transform:scaleX(1.1)">平台</span></div>
<div class="circ" style="left:170px;top:334px;width:133px;height:133px;background:radial-gradient(circle at 66.05px 66.45px,#192bf0 63.25px,rgba(25,43,240,0) 64.25px);"><span class="t" style="left:32.73px;top:30.71px;font-size:15.8px;letter-spacing:0.25px;transform:scaleX(1.0)"><span class="lb">AOP</span>闭环</span><span class="t" style="left:33.91px;top:50.25px;font-size:15.8px;letter-spacing:0.51px;transform:scaleX(1.0)">训练，加</span><span class="t" style="left:33.79px;top:69.92px;font-size:15.8px;letter-spacing:0.36px;transform:scaleX(1.0)">速算法落</span><span class="t" style="left:57.81px;top:87.94px;font-size:15.8px;transform:scaleX(1.0)">地</span></div>
<div class="circ" style="left:167px;top:542px;width:133px;height:133px;background:radial-gradient(circle at 66.45px 65.80px,#192bf0 63.25px,rgba(25,43,240,0) 64.25px);"><span class="t" style="left:32.79px;top:39.21px;font-size:15.8px;letter-spacing:0.90px;transform:scaleX(1.0)"><span class="lb">AOP</span>众包</span><span class="t" style="left:33.75px;top:59.28px;font-size:15.8px;letter-spacing:0.66px;transform:scaleX(1.0)">平台工程</span><span class="t" style="left:41.78px;top:78.61px;font-size:15.8px;letter-spacing:0.63px;transform:scaleX(1.0)">化应用</span></div>
<svg class="arrow" width="1699" height="706" viewBox="0 0 1699 706">
<polyline points="444.9,233.9 440.3,234.2 435.7,234.7 431.1,235.6 426.6,236.8 422.1,238.4 417.7,240.3 413.3,242.4 409.1,244.9 404.9,247.7 400.9,250.8 397.0,254.1 393.2,257.7 389.5,261.6 386.0,265.8 382.7,270.2 379.5,274.8 376.5,279.7 373.7,284.7 371.1,290.0 368.7,295.4 366.6,301.0 364.6,306.7 362.8,312.6 361.3,318.6 360.0,324.6 358.9,330.8 358.1,337.0 357.5,343.3 357.1,349.7 357.0,356.0 357.1,361.4 357.4,366.8 357.8,372.2 358.5,377.6 359.3,383.0 360.3,388.2 361.5,393.5 362.9,398.7 364.5,403.8 366.2,408.8 368.1,413.7 370.2,418.6 372.4,423.3 374.8,428.0 377.3,432.5 380.0,436.9 382.9,441.1 385.9,445.2 389.0,449.2 392.3,453.0 395.7,456.7 399.2,460.1 402.8,463.5 406.5,466.6 410.4,469.5 414.3,472.3 418.4,474.9 422.5,477.3 426.7,479.5 431.0,481.4" fill="none" stroke="#727de6" stroke-width="6"/>
<polygon points="447.4,483.6 431.6,472.2 428.3,489.8" fill="#727de6"/>
</svg>
<svg class="frame" width="1699" height="706" viewBox="0 0 1699 706">
<rect x="445.75" y="84.5" width="1007.4" height="299.1" rx="18.4" ry="18.4" fill="none" stroke="#54567e" stroke-width="1.35"/>
<line x1="1453.15" y1="111.5" x2="1453.15" y2="361.5" stroke="#8383dc" stroke-width="1.7"/>
</svg>
<div class="panel" style="left:627px;top:126px;width:421px;height:88px;transform:translate(0.65px,0.35px);border-radius:7.5px;"></div>
<div class="panel" style="left:1139px;top:131px;width:275px;height:81px;transform:translate(0.30px,0.85px);border-radius:13px;"></div>
<div class="panel" style="left:627px;top:244px;width:787px;height:117px;transform:translate(0.35px,0.80px);border-radius:13px;"></div>
<div class="panel" style="left:447px;top:414px;width:1005px;height:139px;transform:translate(0.85px,0.90px);border-radius:23px;"></div>
<div class="panel" style="left:446px;top:577px;width:1006px;height:88px;transform:translate(0.70px,0.35px);border-radius:13.5px;"></div>
<div class="btn" style="left:465px;top:211px;width:140px;height:50px;transform:translate(0.95px,0.00px);border-radius:7px;"><span class="t" style="left:33.03px;top:19.04px;font-size:17.4px;letter-spacing:-1.04px;transform:scaleX(1.1)">感知模块</span></div>
<div class="btn" style="left:466px;top:461px;width:140px;height:46px;transform:translate(0.20px,0.10px);border-radius:6.5px;"><span class="t" style="left:22.32px;top:15.88px;font-size:17.4px;letter-spacing:-0.57px;transform:scaleX(1.1)">拟人化交互</span></div>
<div class="btn" style="left:466px;top:603px;width:220px;height:36px;transform:translate(0.35px,0.15px);border-radius:5.5px;"><span class="t" style="left:44.81px;top:10.76px;font-size:17.4px;letter-spacing:-0.68px;transform:scaleX(1.1)">行动和反馈模块</span></div>
<div class="lab" style="left:761px;top:104px;width:198px;height:34px;transform:translate(0.25px,0.00px);"><span class="t" style="left:22.24px;top:10.06px;font-size:14.0px;letter-spacing:-0.25px;transform:scaleX(1.08)">在/离线数据构建和标注</span></div>
<div class="lab" style="left:1193px;top:104px;width:137px;height:34px;transform:translate(0.15px,0.00px);"><span class="t" style="left:24.15px;top:10.30px;font-size:14.0px;letter-spacing:-0.63px;transform:scaleX(1.08)">仿真数据构建</span></div>
<div class="lab" style="left:934px;top:228px;width:172px;height:31px;transform:translate(0.95px,0.90px);"><span class="t" style="left:39.42px;top:9.88px;font-size:14.0px;letter-spacing:-0.50px;transform:scaleX(1.08)">人.物识别感知</span></div>
<div class="chip" style="left:640px;top:143px;width:83px;height:30px;transform:translate(0.20px,0.10px);background:#a1a9fb;"><span class="t" style="left:20.03px;top:9.95px;font-size:12.9px;letter-spacing:0.12px;transform:scaleX(1.08);font-weight:700;color:#fff">文本类</span></div>
<div class="chip" style="left:743px;top:143px;width:86px;height:30px;transform:translate(0.90px,0.15px);background:#1f6cff;"><span class="t" style="left:22.68px;top:9.90px;font-size:12.9px;letter-spacing:-0.92px;transform:scaleX(1.08);font-weight:700;color:#fff">语音类</span></div>
<div class="chip" style="left:850px;top:143px;width:84px;height:30px;transform:translate(0.75px,0.10px);background:#4f95d8;"><span class="t" style="left:20.63px;top:10.27px;font-size:12.9px;letter-spacing:-0.33px;transform:scaleX(1.08)">视频类</span></div>
<div class="chip" style="left:954px;top:143px;width:82px;height:30px;transform:translate(0.90px,0.10px);background:#a8d18c;"><span class="t" style="left:19.70px;top:9.77px;font-size:12.9px;letter-spacing:-0.42px;transform:scaleX(1.08)">图片类</span></div>
<div class="chip" style="left:640px;top:178px;width:83px;height:28px;transform:translate(0.20px,0.95px);background:#adb9cb;"><span class="t" style="left:20.15px;top:8.84px;font-size:12.9px;letter-spacing:0.04px;transform:scaleX(1.08)">图片类</span></div>
<div class="chip" style="left:745px;top:179px;width:84px;height:28px;transform:translate(0.05px,0.00px);background:#a8d18c;"><span class="t" style="left:21.08px;top:9.33px;font-size:12.9px;letter-spacing:-0.50px;transform:scaleX(1.08)">美术类</span></div>
<div class="chip" style="left:850px;top:178px;width:84px;height:28px;transform:translate(0.75px,0.95px);background:#a19bfd;"><span class="t" style="left:21.20px;top:9.19px;font-size:12.9px;letter-spacing:-0.67px;transform:scaleX(1.08)">点云类</span></div>
<div class="chip" style="left:954px;top:178px;width:82px;height:28px;transform:translate(0.90px,0.95px);background:#a0a9fb;"><span class="dots">. . .</span></div>
<div class="gb" style="left:1157px;top:152px;width:116px;height:44px;transform:translate(0.00px,0.50px);"><span class="t" style="left:25.05px;top:5.16px;font-size:15.5px;letter-spacing:-0.40px;transform:scaleX(1.06)">数字孪生</span><span class="t" style="left:27.57px;top:23.27px;font-size:15.5px;letter-spacing:-1.70px;transform:scaleX(1.06)"><span class="la">ACE</span>底座</span></div>
<div class="gb" style="left:1287px;top:152px;width:110px;height:45px;transform:translate(0.15px,0.00px);"><span class="t" style="left:21.85px;top:15.75px;font-size:15.5px;letter-spacing:-0.28px;transform:scaleX(1.06)">动作捕捉</span></div>
<div class="gb" style="left:686px;top:269px;width:178px;height:33px;transform:translate(0.15px,0.00px);"><span class="t" style="left:40.57px;top:8.81px;font-size:15.5px;letter-spacing:-0.61px;transform:scaleX(1.06)">人脸情绪识别</span></div>
<div class="gb" style="left:913px;top:269px;width:209px;height:33px;"><span class="t" style="left:88.53px;top:8.35px;font-size:16.6px;letter-spacing:-1.01px;transform:scaleX(0.98)"><span class="la">NLP</span></span></div>
<div class="gb" style="left:1166px;top:269px;width:198px;height:33px;transform:translate(0.05px,0.00px);"><span class="t" style="left:33.18px;top:9.79px;font-size:15.5px;letter-spacing:-0.27px;transform:scaleX(1.06)">实时动作骨骼识别</span></div>
<div class="gb" style="left:686px;top:310px;width:178px;height:36px;transform:translate(0.15px,0.55px);"><span class="t" style="left:55.51px;top:10.33px;font-size:15.5px;letter-spacing:-0.45px;transform:scaleX(1.06)">物品识别</span></div>
<div class="gb" style="left:913px;top:310px;width:209px;height:36px;transform:translate(0.00px,0.55px);"><span class="t" style="left:71.94px;top:11.18px;font-size:15.5px;letter-spacing:-0.45px;transform:scaleX(1.06)">商品识别</span></div>
<div class="gb" style="left:1166px;top:310px;width:198px;height:36px;transform:translate(0.05px,0.55px);"><span class="t" style="left:49.20px;top:11.24px;font-size:15.5px;letter-spacing:-0.24px;transform:scaleX(1.06)">环境识别建模</span></div>
<div class="pb" style="left:646px;top:442px;width:164px;height:83px;transform:translate(0.45px,0.70px);border-radius:12.4px;"><span class="t" style="left:41.26px;top:28.36px;font-size:12.5px;letter-spacing:-0.46px;transform:scaleX(1.1)">动态情绪迁移</span><span class="t" style="left:41.26px;top:44.36px;font-size:12.5px;letter-spacing:-0.46px;transform:scaleX(1.1)">动态骨骼迁移</span></div>
<div class="pb" style="left:837px;top:445px;width:185px;height:77px;transform:translate(0.90px,0.80px);border-radius:11.6px;"><span class="t" style="left:65.00px;top:11.08px;font-size:12.5px;letter-spacing:-0.46px;transform:scaleX(1.1)">语音交互</span><span class="t" style="left:52.85px;top:24.81px;font-size:12.5px;letter-spacing:-1.06px;transform:scaleX(1.1)"><span class="la">ASR</span>无唤醒词</span><span class="t" style="left:78.25px;top:39.95px;font-size:13.2px;letter-spacing:0.10px;transform:scaleX(0.98)"><span class="la">NLU</span></span><span class="t" style="left:54.15px;top:56.82px;font-size:12.5px;letter-spacing:-0.82px;transform:scaleX(1.1)"><span class="la">TTS</span>音色定制</span></div>
<div class="pb" style="left:1050px;top:443px;width:170px;height:81px;transform:translate(0.95px,0.70px);border-radius:12.1px;"><span class="t" style="left:14.24px;top:27.87px;font-size:12.5px;letter-spacing:-0.16px;transform:scaleX(1.1)">虚拟捏脸交互（文字/图</span><span class="t" style="left:70.57px;top:43.29px;font-size:12.5px;letter-spacing:0.98px;transform:scaleX(1.1)">片）</span></div>
<div class="pb" style="left:1248px;top:441px;width:153px;height:85px;transform:translate(0.50px,0.75px);border-radius:12.8px;"><span class="t" style="left:15.26px;top:29.16px;font-size:12.5px;letter-spacing:-0.46px;transform:scaleX(1.1)">妙启<span class="la">LLM</span>通用对话大</span><span class="t" style="left:61.65px;top:44.90px;font-size:12.5px;transform:scaleX(1.1)">模型</span></div>
<div class="pb" style="left:732px;top:590px;width:162px;height:62px;transform:translate(0.35px,0.05px);border-radius:9.4px;"><span class="t" style="left:60.55px;top:23.81px;font-size:13.6px;letter-spacing:0.24px;transform:scaleX(0.98)"><span class="la">SLAM</span></span></div>
<div class="pb" style="left:926px;top:590px;width:196px;height:62px;transform:translate(0.25px,0.05px);border-radius:9.4px;"><span class="t" style="left:30.75px;top:26.75px;font-size:12.5px;letter-spacing:-0.45px;transform:scaleX(1.1)">强化学习在机械臂上的</span></div>
<div class="pb" style="left:1179px;top:590px;width:218px;height:62px;transform:translate(0.40px,0.05px);border-radius:9.4px;"><span class="t" style="left:43.21px;top:25.20px;font-size:12.5px;letter-spacing:-0.88px;transform:scaleX(1.1)"><span class="la">RTC</span>音视频低时延交互</span></div>
</body>
</html>
